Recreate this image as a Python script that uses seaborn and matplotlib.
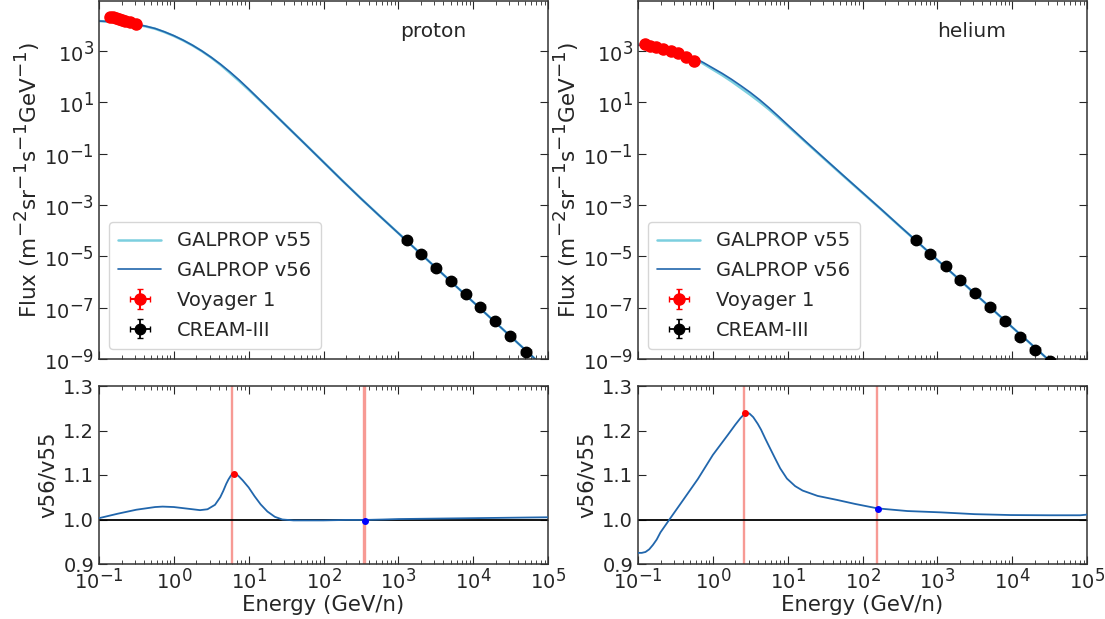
import numpy as np
import pandas as pd
import matplotlib
matplotlib.use("Agg")
import matplotlib.pyplot as plt
import seaborn as sns
from matplotlib.ticker import LogLocator, NullLocator, FixedLocator
try:
    import matplotlib._mathtext as _mt
    _mt.SHRINK_FACTOR = 0.85
except Exception:
    pass

# ---------------- data (log10 values) ----------------
flux_logE = [-1.0, -0.75, -0.5, -0.375, -0.25, -0.125, 0.0, 0.125, 0.25, 0.375, 0.5, 0.625,
             0.75, 0.875, 1.0, 1.125, 1.25, 1.375, 1.5, 1.75, 2.0, 2.25, 2.5, 2.75, 3.0,
             3.25, 3.5, 3.75, 4.0, 4.25, 4.5, 4.75, 5.0]

proton_v56_logF = [4.16, 4.12, 4.03, 3.96, 3.87, 3.74, 3.59, 3.415, 3.217, 2.994, 2.746, 2.475,
                   2.179, 1.859, 1.515, 1.159, 0.803, 0.446, 0.09, -0.62, -1.335, -2.05, -2.75,
                   -3.43, -4.10, -4.77, -5.44, -6.11, -6.78, -7.45, -8.12, -8.79, -9.46]
proton_v55_logF = [4.159, 4.114, 4.020, 3.949, 3.858, 3.728, 3.578, 3.404, 3.207, 2.985, 2.735,
                   2.453, 2.139, 1.819, 1.485, 1.140, 0.795, 0.444, 0.09, -0.619, -1.334, -2.049,
                   -2.75, -3.43, -4.10, -4.77, -5.44, -6.11, -6.78, -7.45, -8.12, -8.79, -9.46]
helium_v56_logF = [3.22, 3.16, 3.01, 2.89, 2.73, 2.54, 2.33, 2.12, 1.89, 1.64, 1.38, 1.095,
                   0.785, 0.455, 0.115, -0.22, -0.555, -0.885, -1.215, -1.87, -2.52, -3.17, -3.83,
                   -4.48, -5.14, -5.79, -6.45, -7.10, -7.76, -8.41, -9.07, -9.72, -10.38]
helium_v55_logF = [3.254, 3.180, 3.002, 2.869, 2.697, 2.495, 2.271, 2.051, 1.810, 1.550, 1.288,
                   1.013, 0.719, 0.404, 0.078, -0.251, -0.581, -0.908, -1.236, -1.887, -2.534,
                   -3.180, -3.839, -4.488, -5.147, -5.796, -6.455, -7.105, -7.764, -8.414,
                   -9.074, -9.724, -10.384]

# Voyager 1
voy_p_E = [0.139, 0.152, 0.167, 0.183, 0.201, 0.222, 0.262, 0.316]
voy_p_F = [2.1e4, 2.0e4, 1.9e4, 1.8e4, 1.65e4, 1.5e4, 1.3e4, 1.08e4]
voy_he_E = [0.124, 0.145, 0.173, 0.218, 0.276, 0.346, 0.434, 0.565]
voy_he_F = [1820, 1550, 1445, 1175, 977, 794, 589, 407]

# CREAM-III
cream_p_E = [1290, 2000, 3150, 5000, 7900, 12500, 19800, 31500, 51000]
cream_p_F = [4.2e-5, 1.18e-5, 3.55e-6, 1.1e-6, 3.5e-7, 1.07e-7, 2.95e-8, 7.8e-9, 1.95e-9]
cream_he_E = [515, 795, 1290, 2000, 3160, 5000, 7950, 12600, 20000, 32400]
cream_he_F = [4.2e-5, 1.26e-5, 4.0e-6, 1.2e-6, 3.6e-7, 1.1e-7, 2.95e-8, 7.4e-9, 2.2e-9, 8.1e-10]
cream_halfbin_dex = 0.065

# ratios v56/v55
ratio_p_logE = [-1.0, -0.75, -0.5, -0.25, -0.15, 0.0, 0.2, 0.35, 0.45, 0.55, 0.62, 0.66, 0.70,
                0.73, 0.76, 0.78, 0.80, 0.85, 0.88, 0.92, 0.96, 1.0, 1.08, 1.16, 1.25, 1.35,
                1.45, 1.6, 1.8, 2.0, 2.3, 2.55, 2.8, 3.0, 3.5, 4.0, 4.5, 5.0]
ratio_p = [1.003, 1.013, 1.022, 1.028, 1.029, 1.028, 1.024, 1.021, 1.023, 1.033, 1.050, 1.064,
           1.080, 1.090, 1.098, 1.102, 1.103, 1.100, 1.095, 1.088, 1.080, 1.072, 1.052, 1.034,
           1.018, 1.006, 1.000, 0.998, 0.998, 0.998, 0.999, 0.999, 1.000, 1.001, 1.002, 1.003,
           1.004, 1.005]
ratio_he_logE = [-1.0, -0.95, -0.9, -0.85, -0.8, -0.75, -0.7, -0.58, -0.4, -0.2, 0.0, 0.2, 0.3,
                 0.37, 0.42, 0.45, 0.49, 0.54, 0.60, 0.644, 0.70, 0.75, 0.83, 0.90, 0.99, 1.1,
                 1.2, 1.4, 1.66, 1.9, 2.2, 2.6, 3.05, 3.5, 3.98, 4.5, 4.91, 5.0]
ratio_he = [0.925, 0.925, 0.927, 0.933, 0.943, 0.955, 0.971, 1.000, 1.043, 1.091, 1.145, 1.190,
            1.213, 1.228, 1.237, 1.240, 1.238, 1.230, 1.215, 1.202, 1.182, 1.165, 1.138, 1.115,
            1.092, 1.075, 1.065, 1.053, 1.044, 1.035, 1.025, 1.019, 1.016, 1.012, 1.010, 1.0095,
            1.0095, 1.011]

# marked points (max / reference) and vertical lines
peak_p = (6.3, 1.103)
ref_p = (355.0, 0.997)
vlines_p = [6.0, 350.0, 362.0]
peak_he = (2.73, 1.240)
ref_he = (160.0, 1.024)
vlines_he = [2.57, 158.0]

# ---------------- style ----------------
sns.set_style("ticks")
plt.rcParams.update({
    "font.family": ["DejaVu Sans"],
    "font.size": 14,
    "xtick.direction": "in", "ytick.direction": "in",
    "xtick.top": True, "ytick.right": True,
    "xtick.major.size": 6, "ytick.major.size": 6,
    "xtick.minor.size": 3, "ytick.minor.size": 3,
    "xtick.major.pad": 2.5,
    "xtick.labelsize": 14, "ytick.labelsize": 14,
    "axes.labelsize": 15.3,
    "axes.edgecolor": "#333333",
    "axes.linewidth": 1.1,
    "legend.fontsize": 14,
})

C55 = "#7ccfdf"
C56 = "#2166ac"
CV = "#f79a94"

fig = plt.figure(figsize=(11.05, 6.19), dpi=100)
W, H = 1105.0, 619.0
def box(x0, y0, x1, y1):
    return [x0 / W, 1 - y1 / H, (x1 - x0) / W, (y1 - y0) / H]

ax_tp = fig.add_axes(box(99, 1, 548, 359))
ax_th = fig.add_axes(box(638, 1, 1087, 359))
ax_bp = fig.add_axes(box(99, 386, 548, 564))
ax_bh = fig.add_axes(box(638, 386, 1087, 564))

E_grid = 10 ** np.array(flux_logE)

def top_panel(ax, f55, f56, vE, vF, cE, cF, name):
    df = pd.DataFrame({"E": np.concatenate([E_grid, E_grid]),
                       "F": np.concatenate([10 ** np.array(f55), 10 ** np.array(f56)]),
                       "model": ["GALPROP v55"] * len(E_grid) + ["GALPROP v56"] * len(E_grid)})
    sns.lineplot(data=df, x="E", y="F", hue="model", palette=[C55, C56], ax=ax,
                 legend=False, sort=False)
    for ln, lw in zip(ax.lines, [1.8, 1.2]):
        ln.set_linewidth(lw)
    ax.plot([], [], color=C55, lw=1.8, label="GALPROP v55")
    ax.plot([], [], color=C56, lw=1.2, label="GALPROP v56")
    vE = np.array(vE); vF = np.array(vF)
    ax.errorbar(vE, vF, yerr=0.04 * vF, xerr=0.02 * vE, fmt="o", color="red", ms=8,
                elinewidth=1.5, capsize=2, label="Voyager 1", zorder=5)
    cE = np.array(cE); cF = np.array(cF)
    xe = [cE * (1 - 10 ** -cream_halfbin_dex), cE * (10 ** cream_halfbin_dex - 1)]
    ax.errorbar(cE, cF, yerr=0.06 * cF, xerr=xe, fmt="o", color="black", ms=7.5,
                elinewidth=1.3, capsize=2, label="CREAM-III", zorder=5)
    ax.set_xscale("log"); ax.set_yscale("log")
    ax.set_xlim(0.1, 1e5)
    ax.set_ylim(1e-9, 10 ** 4.94)
    ax.yaxis.set_major_locator(FixedLocator([1e-9, 1e-7, 1e-5, 1e-3, 1e-1, 1e1, 1e3]))
    ax.yaxis.set_minor_locator(NullLocator())
    ax.xaxis.set_major_locator(LogLocator(base=10, numticks=20))
    ax.xaxis.set_minor_locator(LogLocator(base=10, subs=np.arange(2, 10), numticks=20))
    ax.tick_params(axis="x", labelbottom=False)
    ax.set_xlabel("")
    ax.set_ylabel("Flux (m$^{-2}$sr$^{-1}$s$^{-1}$GeV$^{-1}$)", fontsize=15.5, labelpad=2)
    ax.text(0.744, 0.916, name, transform=ax.transAxes, ha="center", va="center", fontsize=14.5)
    ax.legend(loc="lower left", frameon=True, fancybox=True, framealpha=0.8,
              edgecolor="#cccccc", handlelength=2.2, handletextpad=0.8,
              borderpad=0.5, labelspacing=0.55)

def bottom_panel(ax, lE, r, peak, ref, vl):
    df = pd.DataFrame({"E": 10 ** np.array(lE), "r": r})
    for v in vl:
        ax.axvline(v, color=CV, lw=1.7, zorder=1)
    ax.axhline(1.0, color="black", lw=1.3, zorder=2)
    sns.lineplot(data=df, x="E", y="r", color=C56, lw=1.3, ax=ax, sort=False, zorder=3)
    ax.plot([peak[0]], [peak[1]], "o", color="red", ms=4, zorder=4)
    ax.plot([ref[0]], [ref[1]], "o", color="blue", ms=4, zorder=4)
    ax.set_xscale("log")
    ax.set_xlim(0.1, 1e5)
    ax.set_ylim(0.9, 1.3)
    ax.set_yticks([0.9, 1.0, 1.1, 1.2, 1.3])
    ax.set_yticklabels(["0.9", "1.0", "1.1", "1.2", "1.3"])
    ax.yaxis.set_minor_locator(NullLocator())
    ax.xaxis.set_major_locator(LogLocator(base=10, numticks=20))
    ax.xaxis.set_minor_locator(LogLocator(base=10, subs=np.arange(2, 10), numticks=20))
    ax.set_xlabel("Energy (GeV/n)", labelpad=1)
    ax.set_ylabel("v56/v55")

top_panel(ax_tp, proton_v55_logF, proton_v56_logF, voy_p_E, voy_p_F, cream_p_E, cream_p_F, "proton")
top_panel(ax_th, helium_v55_logF, helium_v56_logF, voy_he_E, voy_he_F, cream_he_E, cream_he_F, "helium")
bottom_panel(ax_bp, ratio_p_logE, ratio_p, peak_p, ref_p, vlines_p)
bottom_panel(ax_bh, ratio_he_logE, ratio_he, peak_he, ref_he, vlines_he)

for ax in [ax_tp, ax_th, ax_bp, ax_bh]:
    ax.tick_params(which="both", direction="in", top=True, right=True)

fig.savefig("out.png", dpi=100)
